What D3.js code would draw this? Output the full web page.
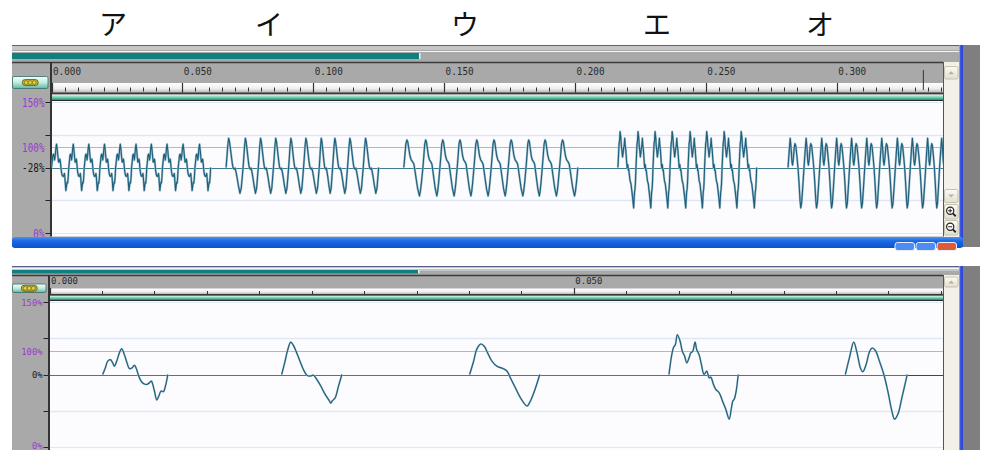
<!DOCTYPE html>
<html>
<head>
<meta charset="utf-8">
<script src="https://cdn.jsdelivr.net/npm/d3@7"></script>
<style>
  body { margin: 0; background: #fff; }
  svg { display: block; }
</style>
</head>
<body>
<div id="chart"></div>
<script>
// vowel labels along the top
const vowels = ['ア', 'イ', 'ウ', 'エ', 'オ']

// one pitch period of each vowel: [phase 0..1, amplitude]
const periodA = [[0, 0], [0.041, 0.091], [0.077, 0.183], [0.118, 0.205], [0.154, 0.16], [0.179, 0.114],
  [0.215, 0.183], [0.256, 0.297], [0.292, 0.356], [0.333, 0.274], [0.374, 0.16], [0.41, 0.082],
  [0.451, 0.091], [0.487, 0.128], [0.513, 0.091], [0.554, -0.023], [0.59, -0.091], [0.631, -0.128],
  [0.677, -0.137], [0.718, -0.114], [0.749, -0.091], [0.769, -0.137], [0.795, -0.228], [0.831, -0.352],
  [0.862, -0.297], [0.897, -0.228], [0.933, -0.237], [0.964, -0.16], [1, 0]]
const periodI = [[0, 0], [0.056, 0.183], [0.094, 0.32], [0.15, 0.447], [0.194, 0.402], [0.239, 0.32],
  [0.294, 0.205], [0.361, 0.068], [0.417, -0.009], [0.472, -0.023], [0.528, -0.009], [0.583, -0.068],
  [0.65, -0.16], [0.722, -0.274], [0.794, -0.365], [0.815, -0.395], [0.84, -0.365], [0.889, -0.32],
  [0.944, -0.16], [1, 0]]
const periodU = [[0, 0], [0.057, 0.183], [0.105, 0.356], [0.162, 0.42], [0.21, 0.388], [0.257, 0.297],
  [0.319, 0.183], [0.39, 0.114], [0.476, 0.082], [0.533, 0.046], [0.581, -0.046], [0.652, -0.183],
  [0.724, -0.32], [0.819, -0.434], [0.867, -0.365], [0.924, -0.228], [1, 0]]
const periodE = [[0, 0], [0.063, 0.365], [0.092, 0.411], [0.121, 0.548], [0.159, 0.466], [0.193, 0.32],
  [0.227, 0.251], [0.256, 0.16], [0.29, 0.228], [0.314, 0.297], [0.343, 0.32], [0.377, 0.447],
  [0.401, 0.342], [0.435, 0.274], [0.469, 0.137], [0.507, 0], [0.546, 0.046], [0.58, -0.046],
  [0.604, -0.037], [0.643, -0.137], [0.676, -0.205], [0.725, -0.251], [0.773, -0.365], [0.821, -0.479],
  [0.87, -0.616], [0.903, -0.457], [0.923, -0.365], [0.942, -0.342], [0.971, -0.228], [1, 0]]
const periodO = [[0, 0], [0.065, 0.228], [0.135, 0.447], [0.189, 0.297], [0.243, 0.091], [0.281, 0.037],
  [0.335, 0.137], [0.389, 0.311], [0.432, 0.365], [0.486, 0.329], [0.551, 0.183], [0.622, 0],
  [0.686, -0.228], [0.751, -0.502], [0.795, -0.616], [0.849, -0.548], [0.914, -0.32], [1, 0]]
const periods = [periodA, periodI, periodU, periodE, periodO]

// upper panel: start time (s) of every pitch period, and where each vowel ends
const onsetsA = [0.0000, 0.0066, 0.0125, 0.0185, 0.0245, 0.0306, 0.0364, 0.0424, 0.0484, 0.0548]
const onsetsI = [0.0667, 0.0732, 0.0790, 0.0848, 0.0906, 0.0963, 0.1023, 0.1074, 0.1131, 0.1191]
const onsetsU = [0.1346, 0.1419, 0.1484, 0.1550, 0.1614, 0.1680, 0.1745, 0.1813, 0.1875, 0.1941]
const onsetsE = [0.2164, 0.2233, 0.2298, 0.2363, 0.2432, 0.2495, 0.2562, 0.2627]
const onsetsO = [0.2814, 0.2875, 0.2935, 0.2992, 0.3049, 0.3107, 0.3164, 0.3224, 0.3281, 0.3340, 0.3393]
const onsets = [onsetsA, onsetsI, onsetsU, onsetsE, onsetsO]
const vowelEnds = [0.0608, 0.1250, 0.2011, 0.2694, 0.3451]

// lower panel: one period per vowel, start / end (s)
const singleStarts = [0.00507, 0.02214, 0.04006, 0.05907, 0.07589]
const singleEnds = [0.01128, 0.02788, 0.04675, 0.06567, 0.08179]

// rulers and amplitude ticks
const rulerLabels1 = ['0.000', '0.050', '0.100', '0.150', '0.200', '0.250', '0.300']
const rulerLabels2 = ['0.000', '0.050']
const ampTicks1 = [1, 0.5, 0.31, 0, -0.5, -1]
const ampLabels1 = ['150%', '', '100%', '-28%', '', '0%']
const ampTicks2 = [1, 0.5, 0.32, 0, -0.5, -1]
const ampLabels2 = ['150%', '', '100%', '0%', '', '0%']

const width = 989
const height = 450
const titleX = [113, 269, 465, 657, 820]
const plotRight = 943

const svg = d3.select('#chart').append('svg')
  .attr('width', width)
  .attr('height', height)
const defs = svg.append('defs')

function vgrad (id, stops) {
  const g = defs.append('linearGradient').attr('id', id)
    .attr('x1', 0).attr('y1', 0).attr('x2', 0).attr('y2', 1)
  stops.forEach(s => g.append('stop').attr('offset', s[0]).attr('stop-color', s[1]))
}
vgrad('strip', [[0, '#ffffff'], [0.6, '#eeeeee'], [1, '#b8b8b8']])
vgrad('mint', [[0, '#d2f7e8'], [0.5, '#72d2b2'], [1, '#3a9a80']])
vgrad('btn', [[0, '#f4fffc'], [0.5, '#bdeee2'], [1, '#5fb5a5']])
vgrad('xpblue', [[0, '#4a92f8'], [0.35, '#1c6ae4'], [1, '#0b52cc']])
vgrad('scrollbtn', [[0, '#fbfaf4'], [1, '#e2dfd0']])

svg.selectAll('text.title')
  .data(vowels)
  .enter().append('text')
  .attr('class', 'title')
  .attr('x', (d, i) => titleX[i])
  .attr('y', 35)
  .attr('text-anchor', 'middle')
  .attr('font-family', '"Noto Sans CJK JP", sans-serif')
  .attr('font-size', 28)
  .attr('fill', '#111')
  .text(d => d)

function hline (g, x1, x2, y, color, w) {
  g.append('line').attr('x1', x1).attr('x2', x2).attr('y1', y).attr('y2', y)
    .attr('stroke', color).attr('stroke-width', w || 1)
}

function scrollButton (g, y, h, kind) {
  g.append('rect').attr('x', 944.5).attr('y', y).attr('width', 13.5).attr('height', h)
    .attr('rx', 1.5).attr('fill', 'url(#scrollbtn)').attr('stroke', '#c6c2ae')
  const cx = 951.2
  const cy = y + h / 2
  if (kind === 'up') {
    g.append('path').attr('d', `M${cx - 3},${cy + 1.5}L${cx + 3},${cy + 1.5}L${cx},${cy - 1.5}Z`).attr('fill', '#b5b3a6')
  } else if (kind === 'down') {
    g.append('path').attr('d', `M${cx - 3},${cy - 1.5}L${cx + 3},${cy - 1.5}L${cx},${cy + 1.5}Z`).attr('fill', '#b5b3a6')
  } else {
    g.append('circle').attr('cx', cx - 1).attr('cy', cy - 1).attr('r', 3.6)
      .attr('fill', '#fff').attr('stroke', '#222').attr('stroke-width', 1.2)
    g.append('line').attr('x1', cx + 1.6).attr('y1', cy + 1.6).attr('x2', cx + 4.5).attr('y2', cy + 4.5)
      .attr('stroke', '#222').attr('stroke-width', 1.8)
    hline(g, cx - 3, cx + 1, cy - 1, '#222', 1)
    if (kind === 'in') {
      g.append('line').attr('x1', cx - 1).attr('x2', cx - 1).attr('y1', cy - 3).attr('y2', cy + 1)
        .attr('stroke', '#222')
    }
  }
}

function drawPanel (p) {
  const g = svg.append('g')
  const x = d3.scaleLinear().domain(p.domain).range([p.plotLeft, plotRight])
  const y = d3.scaleLinear().domain([-1, 1]).range(p.ampRange)

  // frame
  g.append('rect').attr('x', 963).attr('y', p.top).attr('width', 17).attr('height', p.bottom - p.top).attr('fill', '#7f7f7f')
  g.append('rect').attr('x', 12).attr('y', p.top).attr('width', 947).attr('height', p.bottom - p.top).attr('fill', '#a9a9a9')
  g.append('rect').attr('x', 12).attr('y', p.top + 1).attr('width', 947).attr('height', 4).attr('fill', '#c6c6c6')
  hline(g, 12, 963, p.top + 0.5, '#5a5f8a', 1)
  hline(g, 12, 959, p.teal[0] - 1.5, '#f6f6f6', 1.2)
  g.append('rect').attr('x', 12).attr('y', p.teal[0]).attr('width', p.tealWidth).attr('height', p.teal[1] - p.teal[0])
    .attr('fill', '#0f8080')
  g.append('rect').attr('x', 12 + p.tealWidth - 1).attr('y', p.teal[0]).attr('width', 1.5).attr('height', p.teal[1] - p.teal[0])
    .attr('fill', '#e8f4f4')
  hline(g, 12, plotRight, p.rulerTop + 0.5, '#3c3c3c', 1.3)
  g.append('rect').attr('x', 959).attr('y', p.top).attr('width', 4).attr('height', p.bottom - p.top).attr('fill', '#2f49dc')
  g.append('rect').attr('x', 959).attr('y', p.top).attr('width', 1.2).attr('height', p.bottom - p.top).attr('fill', '#8c98e8')

  // ruler
  g.append('rect').attr('x', p.plotLeft).attr('y', p.strip[0]).attr('width', plotRight - p.plotLeft)
    .attr('height', p.strip[1] - p.strip[0]).attr('fill', 'url(#strip)')
  hline(g, p.plotLeft, plotRight, p.strip[1] + 0.8, '#3a3a3a', 1.4)
  g.append('rect').attr('x', p.plotLeft).attr('y', p.mint[0]).attr('width', plotRight - p.plotLeft)
    .attr('height', p.mint[1] - p.mint[0]).attr('fill', 'url(#mint)')
  hline(g, p.plotLeft, plotRight, p.mint[1] + 0.8, '#2a2a2a', 1.3)

  const minor = d3.range(0, p.domain[1], 0.005)
  g.selectAll('line.minor').data(minor).enter().append('line')
    .attr('x1', d => Math.round(x(d)) + 0.5).attr('x2', d => Math.round(x(d)) + 0.5)
    .attr('y1', p.minorTick[0]).attr('y2', p.minorTick[1])
    .attr('stroke', '#333').attr('stroke-width', 1)
  g.selectAll('line.major').data(p.rulerLabels).enter().append('line')
    .attr('x1', d => Math.round(x(+d)) + 0.5).attr('x2', d => Math.round(x(+d)) + 0.5)
    .attr('y1', p.majorTick[0]).attr('y2', p.majorTick[1])
    .attr('stroke', '#333').attr('stroke-width', 1.2)
  g.selectAll('text.ruler').data(p.rulerLabels).enter().append('text')
    .attr('x', d => x(+d) + 1.5).attr('y', p.labelY)
    .attr('font-family', '"DejaVu Sans Mono", monospace')
    .attr('font-size', p.labelSize)
    .attr('textLength', p.labelLen).attr('lengthAdjust', 'spacingAndGlyphs')
    .attr('fill', '#2a2a2a')
    .text(d => d)
  if (p.cursor) {
    g.append('line').attr('x1', x(p.cursor) + 0.5).attr('x2', x(p.cursor) + 0.5)
      .attr('y1', 70).attr('y2', 90).attr('stroke', '#333')
  }

  // track-head button
  g.append('rect').attr('x', 12.5).attr('y', p.btn[0]).attr('width', p.btnWidth).attr('height', p.btn[1] - p.btn[0])
    .attr('rx', 1.5).attr('fill', 'url(#btn)').attr('stroke', '#3b6d66').attr('stroke-width', 0.8)
  const bx = 12.5 + p.btnWidth / 2
  const by = (p.btn[0] + p.btn[1]) / 2
  g.append('rect').attr('x', bx - 8).attr('y', by - 3).attr('width', 16).attr('height', 6).attr('rx', 3)
    .attr('fill', '#c9b42a').attr('stroke', '#5f5412').attr('stroke-width', 0.8)
  g.selectAll('circle.dot').data([-4, 0, 4]).enter().append('circle')
    .attr('cx', d => bx + d).attr('cy', by).attr('r', 1.9)
    .attr('fill', '#e3d45a').attr('stroke', '#5f5412').attr('stroke-width', 0.6)

  // scrollbar
  g.append('rect').attr('x', 943).attr('y', p.rulerTop).attr('width', 16).attr('height', p.bottom - p.rulerTop)
    .attr('fill', '#f3f1e7')
  p.scrollButtons.forEach(b => scrollButton(g, b[0], b[1], b[2]))

  // plot area
  g.append('rect').attr('x', p.plotLeft).attr('y', p.plotTop).attr('width', plotRight - p.plotLeft)
    .attr('height', p.plotBottom - p.plotTop).attr('fill', '#fcfcfe')
  g.selectAll('line.grid').data(p.ampTicks).enter().append('line')
    .attr('x1', p.plotLeft).attr('x2', plotRight)
    .attr('y1', d => Math.round(y(d)) + 0.5).attr('y2', d => Math.round(y(d)) + 0.5)
    .attr('stroke', (d, i) => d === 0 ? '#444' : (p.ampLabels[i] === '100%' ? '#c9a6dc' : '#dfe7f6'))
    .attr('stroke-width', (d, i) => (d === 0 ? 1.2 : (Math.abs(d) === 0.5 ? 1.6 : 1.2)))
  g.selectAll('line.amptick').data(p.ampTicks).enter().append('line')
    .attr('x1', p.plotLeft - 6).attr('x2', p.plotLeft)
    .attr('y1', d => Math.round(y(d)) + 0.5).attr('y2', d => Math.round(y(d)) + 0.5)
    .attr('stroke', (d, i) => p.ampLabels[i] === '100%' ? 'none' : '#222')
  g.selectAll('text.amp').data(p.ampTicks).enter().append('text')
    .attr('x', p.plotLeft - 7).attr('y', d => Math.min(y(d) + p.ampSize * 0.38, height - 1.5))
    .attr('text-anchor', 'end')
    .attr('font-family', '"DejaVu Sans Mono", monospace')
    .attr('font-size', p.ampSize)
    .attr('textLength', (d, i) => p.ampLabels[i].length * p.ampCharW)
    .attr('lengthAdjust', 'spacingAndGlyphs')
    .attr('fill', (d, i) => (d === 0 ? '#1a1a1a' : '#9a3ad0'))
    .text((d, i) => p.ampLabels[i])

  // plot borders
  g.append('line').attr('x1', p.plotLeft - 0.5).attr('x2', p.plotLeft - 0.5)
    .attr('y1', p.rulerTop).attr('y2', p.plotBottom).attr('stroke', '#333').attr('stroke-width', 2)
  g.append('line').attr('x1', plotRight + 0.5).attr('x2', plotRight + 0.5)
    .attr('y1', p.rulerTop).attr('y2', p.plotBottom).attr('stroke', '#555').attr('stroke-width', 1)

  // waveform
  const clipId = 'clip' + p.top
  defs.append('clipPath').attr('id', clipId).append('rect')
    .attr('x', p.plotLeft).attr('y', p.plotTop).attr('width', plotRight - p.plotLeft).attr('height', p.plotBottom - p.plotTop)
  const wg = g.append('g').attr('clip-path', `url(#${clipId})`)
  wg.append('line').attr('x1', x(0)).attr('x2', x(p.dataEnd))
    .attr('y1', Math.round(y(0)) + 0.5).attr('y2', Math.round(y(0)) + 0.5)
    .attr('stroke', '#3f7c92').attr('stroke-width', 1.2)
  const line = d3.line().x(d => x(d[0])).y(d => y(d[1])).curve(p.curve)
  p.waves.forEach(pts => {
    wg.append('path').attr('d', line(pts)).attr('fill', 'none')
      .attr('stroke', '#9dbccb').attr('stroke-width', p.under).attr('stroke-linejoin', 'round')
    wg.append('path').attr('d', line(pts)).attr('fill', 'none')
      .attr('stroke', '#1d5e7a').attr('stroke-width', p.over).attr('stroke-linejoin', 'round')
  })

  if (p.xpBar) {
    g.append('rect').attr('x', 12).attr('y', 237).attr('width', 951).attr('height', 11)
      .attr('rx', 3).attr('fill', 'url(#xpblue)')
    ;[[895, '#4d8cf2'], [916, '#4d8cf2'], [937, '#df5a36']].forEach(b => {
      g.append('rect').attr('x', b[0]).attr('y', 242.5).attr('width', 19.5).attr('height', 8)
        .attr('rx', 2.5).attr('fill', b[1]).attr('stroke', '#eaf0ff').attr('stroke-width', 1)
    })
  }
}

// upper panel waveform: every period laid on its measured onset
const upperWaves = vowels.map((v, k) => {
  const pts = []
  onsets[k].forEach((t0, i) => {
    const t1 = i + 1 < onsets[k].length ? onsets[k][i + 1] : vowelEnds[k]
    periods[k].forEach(d => pts.push([t0 + d[0] * (t1 - t0), d[1]]))
  })
  return pts
})
const lowerWaves = vowels.map((v, k) =>
  periods[k].map(d => [singleStarts[k] + d[0] * (singleEnds[k] - singleStarts[k]), d[1]]))

drawPanel({
  top: 45, bottom: 247, teal: [53, 59], tealWidth: 408, rulerTop: 62,
  strip: [83, 92.5], mint: [95, 99.5], plotTop: 101, plotBottom: 236.5, plotLeft: 51.5,
  domain: [0, 0.3406], ampRange: [233, 102], minorTick: [87.5, 91.5], majorTick: [83, 92.5],
  rulerLabels: rulerLabels1, labelY: 74.5, labelSize: 11, labelLen: 28, cursor: 0.3329,
  btn: [76.5, 88.5], btnWidth: 35.5,
  ampTicks: ampTicks1, ampLabels: ampLabels1, ampSize: 12, ampCharW: 5.6,
  scrollButtons: [[66.5, 12.5, 'up'], [189.5, 13, 'down'], [204.5, 14.5, 'in'], [220.5, 14.5, 'out']],
  dataEnd: 0.3406, waves: upperWaves, curve: d3.curveLinear, under: 2.2, over: 1.1, xpBar: true
})

drawPanel({
  top: 266, bottom: 450, teal: [270, 273.5], tealWidth: 407, rulerTop: 275,
  strip: [288.5, 294], mint: [296, 299.5], plotTop: 301, plotBottom: 450, plotLeft: 49.5,
  domain: [0, 0.0852], ampRange: [447, 302], minorTick: [291, 294], majorTick: [288, 294],
  rulerLabels: rulerLabels2, labelY: 283.5, labelSize: 9, labelLen: 27, cursor: null,
  btn: [284, 292.5], btnWidth: 33.5,
  ampTicks: ampTicks2, ampLabels: ampLabels2, ampSize: 9.5, ampCharW: 5.3,
  scrollButtons: [[277, 10, 'up']],
  dataEnd: 0.08179, waves: lowerWaves, curve: d3.curveCatmullRom.alpha(0.5), under: 1.9, over: 1.1, xpBar: false
})
</script>
</body>
</html>
